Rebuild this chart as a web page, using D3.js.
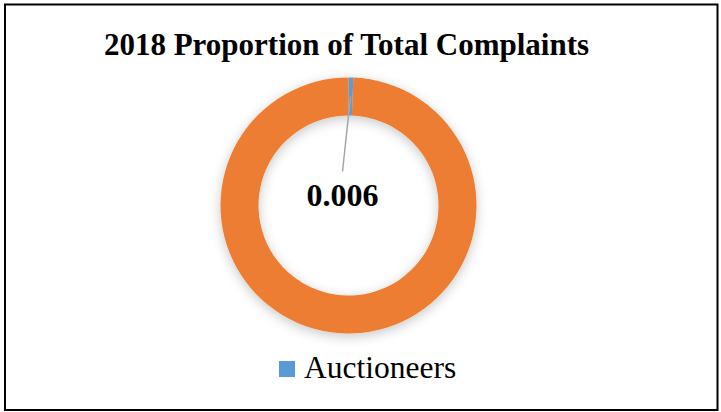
<!DOCTYPE html>
<html>
<head>
<meta charset="utf-8">
<script src="https://cdn.jsdelivr.net/npm/d3@7"></script>
<style>
  body { margin: 0; background: #fff; }
  svg { display: block; font-family: "Liberation Serif", "Times New Roman", serif; }
</style>
</head>
<body>
<div id="chart"></div>
<script>
// chart data
const categories = ['Auctioneers', 'Other'];
const values = [0.006, 0.994];
const sliceColors = ['#5B9BD5', '#ED7D31'];
const legendItems = ['Auctioneers'];   // only the first slice is in the legend
const labelText = ['0.006'];

const width = 721, height = 412;
const cx = 348.5, cy = 205.5;
const outerR = 128, innerR = 90;

const svg = d3.select('#chart')
    .append('svg')
    .attr('width', width)
    .attr('height', height);

// soft shadow round the ring
const defs = svg.append('defs');
const f = defs.append('filter')
    .attr('id', 'soft')
    .attr('x', '-30%').attr('y', '-30%')
    .attr('width', '160%').attr('height', '160%');
f.append('feGaussianBlur').attr('in', 'SourceAlpha').attr('stdDeviation', 6);
f.append('feOffset').attr('dy', 3).attr('result', 'b');
f.append('feFlood').attr('flood-color', '#000').attr('flood-opacity', 0.22);
f.append('feComposite').attr('in2', 'b').attr('operator', 'in');
const m = f.append('feMerge');
m.append('feMergeNode');
m.append('feMergeNode').attr('in', 'SourceGraphic');

// frame
svg.append('rect')
    .attr('x', 5)
    .attr('y', 4.5)
    .attr('width', 712.5)
    .attr('height', 405.5)
    .attr('fill', 'none')
    .attr('stroke', '#000')
    .attr('stroke-width', 2);

// title
svg.append('text')
    .attr('x', 346.5)
    .attr('y', 55)
    .attr('text-anchor', 'middle')
    .style('font-size', '31px')
    .style('font-weight', 'bold')
    .text('2018 Proportion of Total Complaints');

const data = categories.map((c, i) => ({ name: c, value: values[i], color: sliceColors[i] }));

const pie = d3.pie()
    .sort(null)
    .value(d => d.value);

const arc = d3.arc()
    .innerRadius(innerR)
    .outerRadius(outerR);

const g = svg.append('g')
    .attr('transform', `translate(${cx},${cy})`);

g.append('g')
    .attr('filter', 'url(#soft)')
    .selectAll('path')
    .data(pie(data))
    .join('path')
    .attr('d', arc)
    .attr('fill', d => d.data.color);

// data label with leader line
const arcs = pie(data);
const start = arc.centroid(arcs[0]);
const labelPos = [-6, -34];   // line end, relative to centre

g.append('line')
    .attr('x1', start[0])
    .attr('y1', start[1])
    .attr('x2', labelPos[0])
    .attr('y2', labelPos[1])
    .attr('stroke', '#A6A6A6')
    .attr('stroke-width', 1.5);

g.append('text')
    .attr('x', labelPos[0])
    .attr('y', 0)
    .attr('text-anchor', 'middle')
    .style('font-size', '32px')
    .style('font-weight', 'bold')
    .text(labelText[0]);

// legend
const legend = svg.append('g')
    .attr('transform', 'translate(279,361)');

legend.selectAll('rect')
    .data(legendItems)
    .join('rect')
    .attr('x', 0)
    .attr('y', 0)
    .attr('width', 16)
    .attr('height', 16)
    .attr('fill', (d, i) => sliceColors[i]);

legend.selectAll('text')
    .data(legendItems)
    .join('text')
    .attr('x', 25)
    .attr('y', 17)
    .style('font-size', '31.5px')
    .text(d => d);
</script>
</body>
</html>
